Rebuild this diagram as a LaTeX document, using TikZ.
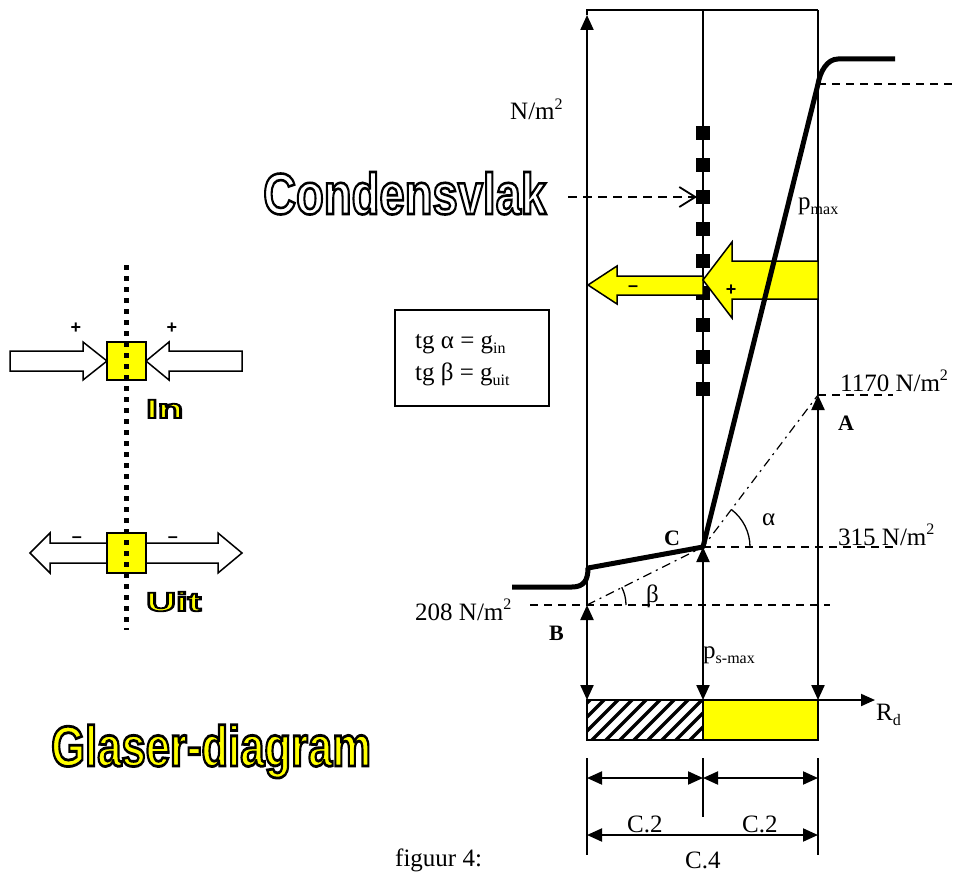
\documentclass[tikz,border=0pt]{standalone}
\usepackage{fontspec}
\usepackage{graphicx}
\setmainfont{Liberation Serif}
\setsansfont{Liberation Sans}
\usetikzlibrary{arrows.meta,calc}
\definecolor{yel}{RGB}{255,255,0}
\newcommand\supt[1]{\raisebox{0.42em}{\fontsize{16}{16}\selectfont #1}}
\newcommand\subt[1]{\raisebox{-0.22em}{\fontsize{16}{16}\selectfont #1}}
% #1 name, #2 position (base west), #3 fill colour, #4 outline width (bp), #5 content
\newcommand\outlinetext[5]{%
  \node[anchor=base west,inner sep=0pt,text=#3] (#1) at (#2)
    {\special{pdf:literal direct 0 0 0 RG 2 Tr #4 w}#5\special{pdf:literal direct 0 Tr}};}
\begin{document}
\begin{tikzpicture}[x=1pt,y=-1pt,
  lbl/.style={anchor=base west,inner sep=0pt,font=\fontsize{25}{30}\selectfont},
  blbl/.style={anchor=base west,inner sep=0pt,font=\fontsize{22}{26}\selectfont\bfseries},
  boxline/.style={line width=1.5pt},
  axisline/.style={line width=2.2pt},
  dimline/.style={line width=2pt},
  dimtick/.style={line width=1.5pt},
  dashln/.style={line width=1.3pt,dash pattern=on 8pt off 6pt},
  dashdot/.style={line width=1.2pt,dash pattern=on 9pt off 5pt on 2pt off 5pt},
  thickcurve/.style={line width=5pt,line cap=butt,line join=round},
  >={Triangle[length=15pt,width=13pt]},
  yarrow/.style={fill=yel,draw=black,line width=1.5pt,line join=miter},
  warrow/.style={fill=white,draw=black,line width=1.5pt,line join=miter},
  sign/.style={font=\sffamily\bfseries\fontsize{18}{18}\selectfont,inner sep=0pt}]
\useasboundingbox (0,0) rectangle (958,872);

% ---------- main coordinates
\coordinate (B) at (587,605);
\coordinate (C) at (703,547);
\coordinate (A) at (818,395);
\coordinate (L0) at (587,700);
\coordinate (M0) at (703,700);
\coordinate (R0) at (818,700);
\coordinate (Ltop) at (587,10);
\coordinate (Mtop) at (703,10);
\coordinate (Rtop) at (818,10);
\coordinate (Ltip) at (587,15);

% ---------- frame
\draw[boxline] (Ltip) -- (Ltop) -- (Rtop);
\draw[boxline] (Mtop) -- (C);
\draw[boxline] (Rtop) -- (A);

% condensation plane squares
\foreach \yy in {133,165,...,389}
  \fill (696,\yy-7) rectangle (710,\yy+7);

% ---------- dashed reference lines
\coordinate (d315) at (893,547);
\coordinate (d208a) at (530,605);
\coordinate (d208b) at (830,605);
\coordinate (d1170) at (893,395);
\coordinate (pmx) at (818,84);
\coordinate (dpm) at (958,84);
\draw[dashln] (C) -- (d315);
\draw[dashln] (d208a) -- (d208b);
\draw[dashln] (A) -- (d1170);
\draw[dashln] (pmx) -- (dpm);

% ---------- dash-dot lines
\draw[dashdot] (B) -- (C) -- (A);

% angle arcs
\draw[line width=1.3pt] (750,547) arc[start angle=0,end angle=-52.6,radius=47];
\draw[line width=1.3pt] (626,605) arc[start angle=0,end angle=-27,radius=39];

% ---------- yellow arrows
\draw[yarrow] (703,276) -- (617,276) -- (617,266) -- (588,285) -- (617,304) -- (617,295) -- (703,295) -- cycle;
\draw[yarrow] (818,261) -- (732,261) -- (732,242) -- (703,280) -- (732,318) -- (732,299) -- (818,299) -- cycle;
\node[sign] (minusY) at (633,289) {–};
\node[sign] (plusY) at (731,290) {+};

% ---------- thick pressure curve
\draw[thickcurve] (512,587) -- (572,587) .. controls (584,587) and (588,580) .. (588,568)
  -- (C) -- (pmx) .. controls (820,72) and (827,59) .. (838,59) -- (895,59);

% ---------- axis arrows
\draw[axisline,->] (B) -- (Ltip);
\draw[axisline,<->] (B) -- (L0);
\draw[axisline,<->] (C) -- (M0);
\draw[axisline,<->] (A) -- (R0);

% ---------- condensvlak pointer
\coordinate (cv0) at (568,197);
\coordinate (cv1) at (697,197);
\draw[line width=1.8pt,dash pattern=on 9pt off 6pt,-{Straight Barb[length=16pt,width=20pt]}] (cv0) -- (cv1);

% ---------- bottom layers
\begin{scope}
  \clip (587,700) rectangle (703,740);
  \foreach \hx in {531,545,...,713}
    \draw[line width=3.5pt] (\hx,745) -- (\hx+50,695);
\end{scope}
\draw[boxline] (587,700) rectangle (703,740);
\draw[boxline,fill=yel] (703,700) rectangle (818,740);
\coordinate (Rend) at (875,700);
\draw[dimline,-{Triangle[length=14pt,width=12pt]}] (L0) -- (Rend);

% ---------- dimensions
\coordinate (t1a) at (587,758); \coordinate (t1b) at (587,855);
\coordinate (t2a) at (703,758); \coordinate (t2b) at (703,817);
\coordinate (t3a) at (818,758); \coordinate (t3b) at (818,855);
\draw[dimtick] (t1a) -- (t1b);
\draw[dimtick] (t2a) -- (t2b);
\draw[dimtick] (t3a) -- (t3b);
\coordinate (m1) at (587,778); \coordinate (m2) at (703,778); \coordinate (m3) at (818,778);
\coordinate (n1) at (587,835); \coordinate (n3) at (818,835);
\draw[dimline,<->] (m1) -- (m2);
\draw[dimline,<->] (m2) -- (m3);
\draw[dimline,<->] (n1) -- (n3);

% ---------- formula box
\draw[boxline] (395,310) rectangle (549,406);
\node[lbl] (tga) at (415,348) {tg α = g\subt{in}};
\node[lbl] (tgb) at (415,380) {tg β = g\subt{uit}};

% ---------- labels
\node[lbl] (nm) at (510,120) {N/m\supt{2}};
\node[lbl] (v208) at (415,620) {208 N/m\supt{2}};
\node[lbl] (v1170) at (840,391) {1170 N/m\supt{2}};
\node[lbl] (v315) at (838,545) {315 N/m\supt{2}};
\node[blbl] (lA) at (838,430) {A};
\node[blbl] (lB) at (549,640) {B};
\node[blbl] (lC) at (664,545) {C};
\node[lbl] (lal) at (762,525) {α};
\node[lbl] (lbe) at (646,602) {β};
\node[lbl] (ps) at (703,658) {p\subt{s-max}};
\node[lbl] (pm) at (798,209) {p\subt{max}};
\node[lbl] (Rd) at (876,720) {R\subt{d}};
\node[lbl] (c2a) at (627,832) {C.2};
\node[lbl] (c2b) at (742,832) {C.2};
\node[lbl] (c4) at (685,868) {C.4};
\node[lbl] (fig) at (395,866) {figuur 4:};

% ---------- left icons
\draw[warrow] (10,351) -- (83,351) -- (83,342) -- (107,361) -- (83,380) -- (83,371) -- (10,371) -- cycle;
\draw[warrow] (242,351) -- (169,351) -- (169,342) -- (146,361) -- (169,380) -- (169,371) -- (242,371) -- cycle;
\draw[boxline,fill=yel] (107,342) rectangle (146,380);
\draw[warrow] (107,543) -- (50,543) -- (50,533) -- (30,553) -- (50,573) -- (50,563) -- (107,563) -- cycle;
\draw[warrow] (146,543) -- (218,543) -- (218,533) -- (242,553) -- (218,573) -- (218,563) -- (146,563) -- cycle;
\draw[boxline,fill=yel] (107,533) rectangle (146,573);
\coordinate (dotA) at (126,265);
\coordinate (dotB) at (126,630);
\draw[line width=5pt,dash pattern=on 5pt off 6pt] (dotA) -- (dotB);
\node[sign] (p1) at (76,328) {+};
\node[sign] (p2) at (172,328) {+};
\node[sign] (m1s) at (77,540) {–};
\node[sign] (m2s) at (173,540) {–};

% ---------- outlined titles
\coordinate (posCV) at (263,214);
\coordinate (posGL) at (51,766);
\coordinate (posIn) at (146,418);
\coordinate (posUit) at (146,611);
\outlinetext{tCV}{posCV}{white}{2.6}{\sffamily\bfseries\fontsize{58}{58}\selectfont\scalebox{0.784}[1]{Condensvlak}}
\outlinetext{tGL}{posGL}{yel}{2.8}{\sffamily\bfseries\fontsize{57}{57}\selectfont\scalebox{0.765}[1]{Glaser-diagram}}
\outlinetext{tIn}{posIn}{yel}{1.8}{\sffamily\bfseries\fontsize{26.5}{27}\selectfont\scalebox{1.57}[1]{In}}
\outlinetext{tUit}{posUit}{yel}{1.8}{\sffamily\bfseries\fontsize{26.5}{27}\selectfont\scalebox{1.56}[1]{Uit}}
\end{tikzpicture}
\end{document}
